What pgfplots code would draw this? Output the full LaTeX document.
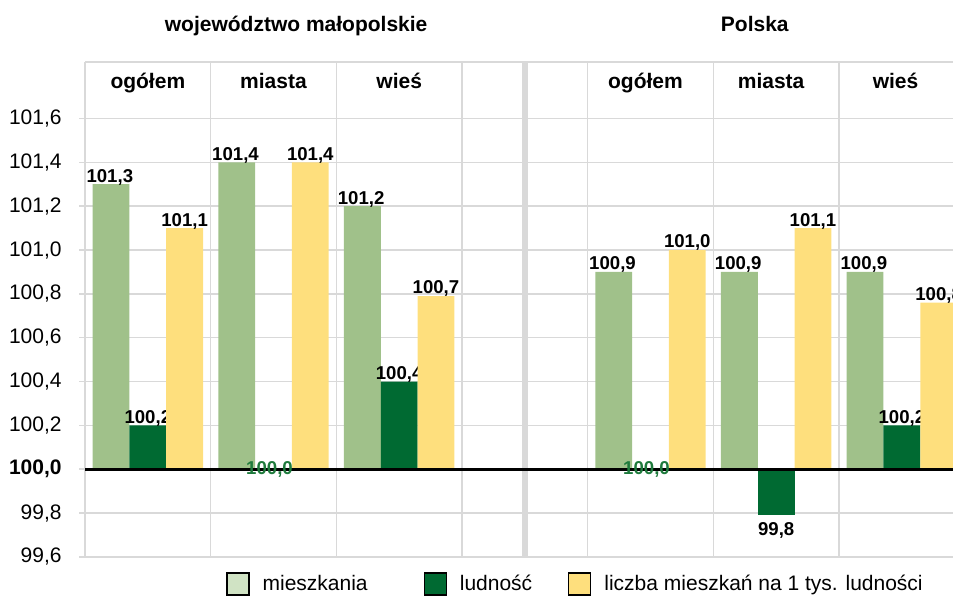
\documentclass[border=0pt]{standalone}
\usepackage{pgfplots}
\pgfplotsset{compat=1.18}
\usepackage{pgfplotstable}
\usepackage{fontspec}
\setmainfont{Liberation Sans}
\definecolor{mieszk}{HTML}{A0C18A}
\definecolor{mieszkL}{HTML}{D0E3C4}
\definecolor{ludn}{HTML}{006A32}
\definecolor{liczba}{HTML}{FEDF7D}
\definecolor{gridc}{HTML}{D9D9D9}
\definecolor{zerolab}{HTML}{1E7A3C}

% x: 0 woj. ogolem, 1 woj. miasta, 2 woj. wies, 3 (gap), 4 PL ogolem, 5 PL miasta, 6 PL wies
\pgfplotstableread{
x y lab
0 101.3 101,3
1 101.4 101,4
2 101.2 101,2
4 100.9 100,9
5 100.9 100,9
6 100.9 100,9
}\mieszkania
\pgfplotstableread{
x y lab
0 100.2 100,2
2 100.4 100,4
6 100.2 100,2
}\ludnoscpos
\pgfplotstableread{
x y lab
1 100.0 100,0
4 100.0 100,0
}\ludnosczero
\pgfplotstableread{
x y lab
5 99.79 99,8
}\ludnoscneg
\pgfplotstableread{
x y lab
0 101.1 101,1
1 101.4 101,4
2 100.79 100,7
4 101.0 101,0
5 101.1 101,1
6 100.76 100,8
}\liczba

\newcommand{\lblfont}{\fontsize{9.3}{11}\selectfont\bfseries}
\begin{document}
\begin{tikzpicture}
\begin{axis}[
  scale only axis, width=434pt, height=247.5pt,
  xmin=-0.5, xmax=6.407, ymin=-0.4, ymax=1.858,
  y filter/.expression={y-100},
  clip mode=individual,
  font=\fontsize{10.5}{12.6}\selectfont,
  axis lines*=left,
  axis line style={gridc, line width=0.75pt},
  grid=major,
  grid style={gridc, line width=0.75pt},
  xtick={-0.5,0.5,1.5,2.5,3.5,4.5,5.5},
  xticklabels={,,,,,,,},
  xtick style={draw=none},
  extra x ticks={3},
  extra x tick labels={,},
  extra x tick style={grid style={gridc, line width=3.2pt}, xtick style={draw=none}},
  ytick={-0.4,-0.2,0,0.2,0.4,0.6,0.8,1.0,1.2,1.4,1.6},
  yticklabels={{99,6},{99,8},{\textbf{100,0}},{100,2},{100,4},{100,6},{100,8},{101,0},{101,2},{101,4},{101,6}},
  yticklabel style={inner sep=0pt, xshift=-8.5pt},
  ytick style={gridc, line width=0.75pt},
  tick align=outside,
  major tick length=3pt,
  extra y ticks={1.858},
  extra y tick labels={,},
  extra y tick style={ytick style={draw=none}},
  legend columns=3,
  legend cell align=left,
  legend image code/.code={\draw[#1, draw=black, line width=0.6pt] (0pt,-5.5pt) rectangle (11pt,5.5pt);},
  legend style={at={(axis description cs:0,0)}, anchor=west, xshift=70.5pt, yshift=-13.5pt,
    draw=none, fill=none, inner sep=0pt,
    font=\fontsize{10.5}{12.6}\selectfont,
    nodes={inner sep=0pt},
    /tikz/every odd column/.append style={column sep=6.5pt}},
  every node near coord/.append style={font=\lblfont, text=black, inner sep=0.6pt},
]
\addlegendimage{fill=mieszkL}
\addlegendentry{mieszkania\rule{28pt}{0pt}}
\addlegendimage{fill=ludn}
\addlegendentry{ludność\rule{18pt}{0pt}}
\addlegendimage{fill=liczba}
\addlegendentry{liczba mieszkań na 1 tys. ludności}

\addplot[forget plot, ybar, bar width=18.4pt, bar shift=-18.4pt, fill=mieszk, draw=none,
  nodes near coords, point meta=explicit symbolic,
  every node near coord/.append style={xshift=-19pt, yshift=-1.2pt}] table[x=x, y=y, meta=lab] {\mieszkania};
\addplot[forget plot, ybar, bar width=18.4pt, bar shift=0pt, fill=ludn, draw=none,
  nodes near coords, point meta=explicit symbolic,
  every node near coord/.append style={yshift=-1.2pt}] table[x=x, y=y, meta=lab] {\ludnoscpos};
\addplot[forget plot, ybar, bar width=18.4pt, bar shift=0pt, fill=ludn, draw=none] table[x=x, y=y] {\ludnoscneg};
\addplot[forget plot, ybar, bar width=18.4pt, bar shift=18.4pt, fill=liczba, draw=none,
  nodes near coords, point meta=explicit symbolic,
  every node near coord/.append style={xshift=18.4pt, yshift=-1.2pt}] table[x=x, y=y, meta=lab] {\liczba};
\addplot[forget plot, black, line width=1.3pt] coordinates {(-0.5,100) (6.407,100)};
\addplot[forget plot, draw=none, mark=none, nodes near coords, point meta=explicit symbolic,
  every node near coord/.append style={anchor=center, text=zerolab, xshift=-2pt}] table[x=x, y=y, meta=lab] {\ludnosczero};
\addplot[forget plot, draw=none, mark=none, nodes near coords, point meta=explicit symbolic,
  every node near coord/.append style={anchor=north, yshift=-2.6pt}] table[x=x, y=y, meta=lab] {\ludnoscneg};

% header and titles
\node[font=\fontsize{10.5}{12.6}\selectfont\bfseries, anchor=base] at (axis cs:0,1.7345) {ogółem};
\node[font=\fontsize{10.5}{12.6}\selectfont\bfseries, anchor=base] at (axis cs:1,1.7345) {miasta};
\node[font=\fontsize{10.5}{12.6}\selectfont\bfseries, anchor=base] at (axis cs:2,1.7345) {wieś};
\node[font=\fontsize{10.5}{12.6}\selectfont\bfseries, anchor=base] at (axis cs:3.96,1.7345) {ogółem};
\node[font=\fontsize{10.5}{12.6}\selectfont\bfseries, anchor=base] at (axis cs:4.96,1.7345) {miasta};
\node[font=\fontsize{10.5}{12.6}\selectfont\bfseries, anchor=base] at (axis cs:5.95,1.7345) {wieś};
\node[font=\fontsize{10.5}{12.6}\selectfont\bfseries, anchor=base] at (axis cs:1.18,1.995) {województwo małopolskie};
\node[font=\fontsize{10.5}{12.6}\selectfont\bfseries, anchor=base] at (axis cs:4.83,1.995) {Polska};

\coordinate (bbl) at (axis cs:-1.1764,-0.5779);
\coordinate (btr) at (axis cs:6.407,2.1405);
\end{axis}
\pgfresetboundingbox
\path[use as bounding box] (bbl) rectangle (btr);
\end{tikzpicture}
\end{document}
